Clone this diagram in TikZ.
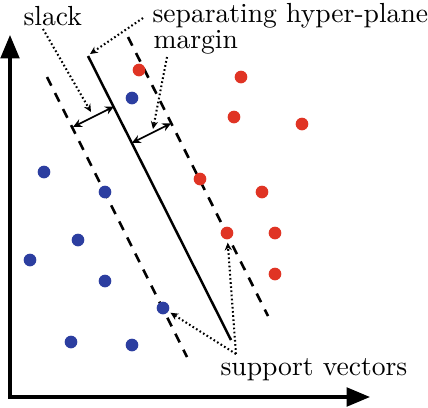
\documentclass[tikz,border=0pt]{standalone}
\usepackage{tikz}
\usetikzlibrary{arrows.meta}
\definecolor{ptred}{RGB}{224,52,36}
\definecolor{ptblue}{RGB}{44,62,160}

\begin{document}
\begin{tikzpicture}[
    x=0.3623pt, y=-0.3623pt,
    redpt/.style={circle, fill=ptred, inner sep=0pt, minimum size=4.6pt},
    bluept/.style={circle, fill=ptblue, inner sep=0pt, minimum size=4.6pt},
    ax/.style={{Triangle[length=8.5pt,width=6.8pt]}-{Triangle[length=8.5pt,width=6.8pt]}, line width=1.1pt, miter limit=4},
    plane/.style={line width=0.9pt},
    marginln/.style={line width=0.95pt, dash pattern=on 3.5pt off 3pt},
    gap/.style={{Stealth[length=3.2pt,width=3pt]}-{Stealth[length=3.2pt,width=3pt]}, line width=0.6pt},
    ptr/.style={-{Stealth[length=2.8pt,width=2.6pt]}, line width=0.75pt, dash pattern=on 0.6pt off 0.9pt},
    lbl/.style={anchor=base west, inner sep=0pt},
]
\useasboundingbox (0,0) rectangle (428,407);
\coordinate (O) at (10,397);
\coordinate (ytop) at (10,35);
\coordinate (xend) at (370,397);
\draw[ax] (ytop) -- (O) -- (xend);
\coordinate (hpTop) at (88,56);
\coordinate (hpBot) at (231,340);
\coordinate (loTop) at (47,77);
\coordinate (loBot) at (187,357);
\coordinate (upTop) at (128,37);
\coordinate (upBot) at (268,316);
\draw[plane] (hpTop) -- (hpBot);
\draw[marginln] (loTop) -- (loBot);
\draw[marginln] (upTop) -- (upBot);
\coordinate (slackL) at (73,127);
\coordinate (slackR) at (114,106.5);
\coordinate (marginL) at (131.8,143);
\coordinate (marginR) at (171.1,123.3);
\draw[gap] (slackL) -- (slackR);
\draw[gap] (marginL) -- (marginR);
\node[redpt] (r1) at (139,70) {};
\node[redpt] (r2) at (241,77) {};
\node[redpt] (r3) at (234,117) {};
\node[redpt] (r4) at (302,124) {};
\node[redpt] (r5) at (200,179) {};
\node[redpt] (r6) at (262,192) {};
\node[redpt] (r7) at (227,233) {};
\node[redpt] (r8) at (275,233) {};
\node[redpt] (r9) at (275,274) {};
\node[bluept] (b1) at (132,98) {};
\node[bluept] (b2) at (44,172) {};
\node[bluept] (b3) at (105,192) {};
\node[bluept] (b4) at (78,240) {};
\node[bluept] (b5) at (30,260) {};
\node[bluept] (b6) at (105,281) {};
\node[bluept] (b7) at (163,308) {};
\node[bluept] (b8) at (71,342) {};
\node[bluept] (b9) at (132,345) {};
\node[lbl] (slack) at (23,25) {slack};
\node[lbl] (sep) at (152,22) {separating hyper-plane};
\node[lbl] (margin) at (153,48) {margin};
\node[lbl] (sv) at (220,375) {support vectors};
\coordinate (slackFrom) at (43,29);
\coordinate (slackTo) at (91,112);
\coordinate (sepFrom) at (143,18);
\coordinate (sepTo) at (90,54);
\coordinate (marginFrom) at (167,57);
\coordinate (marginTo) at (153,129);
\coordinate (svFrom) at (236,354);
\draw[ptr] (slackFrom) -- (slackTo);
\draw[ptr] (sepFrom) -- (sepTo);
\draw[ptr] (marginFrom) -- (marginTo);
\draw[ptr, shorten >=1pt] (svFrom) -- (r7);
\draw[ptr, shorten >=0.7pt] (svFrom) -- (b7);
\end{tikzpicture}
\end{document}
